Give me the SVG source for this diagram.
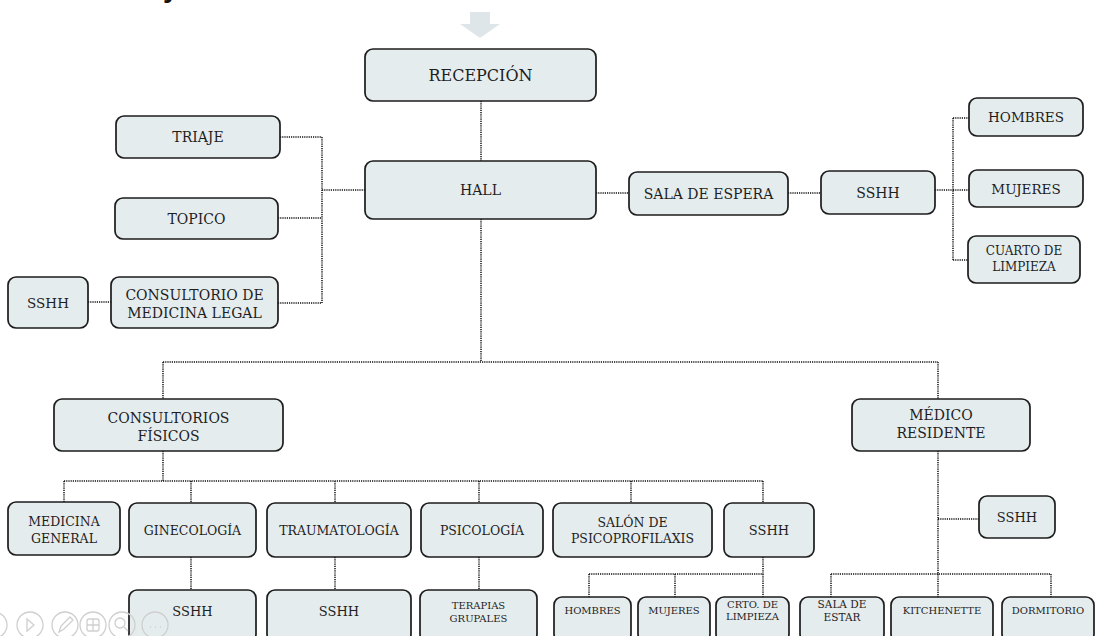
<svg xmlns="http://www.w3.org/2000/svg" width="1096" height="636" viewBox="0 0 1096 636">
<style>
.box{fill:#e5ecee;stroke:#1c1c1c;stroke-width:1.7}
.t{font-family:"DejaVu Serif","Liberation Serif",serif;fill:#1e1e1e;text-anchor:middle}
.c{stroke:#111;stroke-width:1.5;stroke-dasharray:1.2 1;fill:none}
.ui{fill:none;stroke:#cfcfcf;stroke-width:1.3}
</style>
<rect width="1096" height="636" fill="#ffffff"/>
<text x="163" y="-3" style="font-family:'Liberation Sans',sans-serif;font-size:28px;font-weight:bold;fill:#111">y</text>
<g id="entrada-flecha">
<polygon points="470,12 490,12 490,24 500,24 480,38 460,24 470,24" fill="#dfe6ea"/>
</g>
<g id="connectors">
<path class="c" d="M481,101V161 M481,219V362 M163,362H938 M163,362V399 M938,362V399"/>
<path class="c" d="M280,137H322 M278,218H322 M278,303H322 M322,137V303 M322,190H365 M88,302H111"/>
<path class="c" d="M596,193H629 M788,193H821 M935,190H953 M953,118V260 M953,118H969 M953,190H969 M953,260H968"/>
<path class="c" d="M163,451V481 M64,481H763 M64,481V503 M191,481V503 M335,481V503 M479,481V503 M631,481V503 M763,481V503"/>
<path class="c" d="M191,557V590 M335,557V590 M479,557V590"/>
<path class="c" d="M763,557V574 M589,574H763 M589,574V597 M675,574V597 M763,574V597"/>
<path class="c" d="M938,451V597 M938,519H979 M831,574H1051 M831,574V597 M1051,574V597"/>
</g>
<g id="recepcion"><rect class="box" x="365" y="49" width="231" height="52" rx="8"/><text class="t" x="480.5" y="81" font-size="16">RECEPCIÓN</text></g>
<g id="hall"><rect class="box" x="365" y="161" width="231" height="58" rx="8"/><text class="t" x="480.5" y="195" font-size="14">HALL</text></g>
<g id="triaje"><rect class="box" x="116" y="116" width="164" height="42" rx="8"/><text class="t" x="198" y="142" font-size="14">TRIAJE</text></g>
<g id="topico"><rect class="box" x="115" y="198" width="163" height="41" rx="8"/><text class="t" x="196.5" y="223.5" font-size="14">TOPICO</text></g>
<g id="consultorio-legal"><rect class="box" x="111" y="277" width="167" height="51" rx="8"/><text class="t" x="194.5" y="300" font-size="14">CONSULTORIO DE</text><text class="t" x="194.5" y="318" font-size="14">MEDICINA LEGAL</text></g>
<g id="sshh-legal"><rect class="box" x="8" y="277" width="80" height="51" rx="8"/><text class="t" x="48" y="307.5" font-size="13.5">SSHH</text></g>
<g id="sala-espera"><rect class="box" x="629" y="172" width="159" height="43" rx="8"/><text class="t" x="708.5" y="198.5" font-size="14">SALA DE ESPERA</text></g>
<g id="sshh-espera"><rect class="box" x="821" y="171" width="114" height="43" rx="8"/><text class="t" x="878" y="197.5" font-size="14">SSHH</text></g>
<g id="hombres-espera"><rect class="box" x="969" y="98" width="114" height="38" rx="8"/><text class="t" x="1026" y="122" font-size="13.5">HOMBRES</text></g>
<g id="mujeres-espera"><rect class="box" x="969" y="170" width="114" height="37" rx="8"/><text class="t" x="1026" y="193.5" font-size="13.5">MUJERES</text></g>
<g id="cuarto-limpieza"><rect class="box" x="968" y="236" width="112" height="47" rx="8"/><text class="t" x="1024" y="255" font-size="12">CUARTO DE</text><text class="t" x="1024" y="270.5" font-size="12">LIMPIEZA</text></g>
<g id="consultorios-fisicos"><rect class="box" x="54" y="399" width="229" height="52" rx="8"/><text class="t" x="168.5" y="423" font-size="14">CONSULTORIOS</text><text class="t" x="168.5" y="441" font-size="14">FÍSICOS</text></g>
<g id="medico-residente"><rect class="box" x="852" y="399" width="178" height="52" rx="8"/><text class="t" x="941" y="420" font-size="14">MÉDICO</text><text class="t" x="941" y="438" font-size="14">RESIDENTE</text></g>
<g id="medicina-general"><rect class="box" x="8" y="502" width="112" height="53" rx="8"/><text class="t" x="64" y="526" font-size="12.5">MEDICINA</text><text class="t" x="64" y="543" font-size="12.5">GENERAL</text></g>
<g id="ginecologia"><rect class="box" x="129" y="503" width="127" height="54" rx="8"/><text class="t" x="192.5" y="534.5" font-size="12.5">GINECOLOGÍA</text></g>
<g id="traumatologia"><rect class="box" x="267" y="503" width="144" height="54" rx="8"/><text class="t" x="339" y="534.5" font-size="12.5">TRAUMATOLOGÍA</text></g>
<g id="psicologia"><rect class="box" x="421" y="503" width="122" height="54" rx="8"/><text class="t" x="482" y="534.5" font-size="12.5">PSICOLOGÍA</text></g>
<g id="psicoprofilaxis"><rect class="box" x="553" y="503" width="159" height="54" rx="8"/><text class="t" x="632.5" y="526.5" font-size="12.5">SALÓN DE</text><text class="t" x="632.5" y="543" font-size="12.5">PSICOPROFILAXIS</text></g>
<g id="sshh-consultorios"><rect class="box" x="724" y="503" width="90" height="54" rx="8"/><text class="t" x="769" y="535" font-size="13">SSHH</text></g>
<g id="sshh-medico"><rect class="box" x="979" y="496" width="76" height="42" rx="8"/><text class="t" x="1017" y="522" font-size="13">SSHH</text></g>
<g id="sshh-ginecologia"><rect class="box" x="129" y="590" width="127" height="52" rx="8"/><text class="t" x="192.5" y="615.5" font-size="13">SSHH</text></g>
<g id="sshh-traumatologia"><rect class="box" x="267" y="590" width="144" height="52" rx="8"/><text class="t" x="339" y="615.5" font-size="13">SSHH</text></g>
<g id="terapias-grupales"><rect class="box" x="420" y="590" width="117" height="52" rx="8"/><text class="t" x="478.5" y="608.5" font-size="10">TERAPIAS</text><text class="t" x="478.5" y="621.5" font-size="10">GRUPALES</text></g>
<g id="hombres-consultorios"><rect class="box" x="554" y="597" width="77" height="45" rx="8"/><text class="t" x="592.5" y="613.5" font-size="10">HOMBRES</text></g>
<g id="mujeres-consultorios"><rect class="box" x="638" y="597" width="72" height="45" rx="8"/><text class="t" x="674" y="613.5" font-size="10">MUJERES</text></g>
<g id="crto-limpieza"><rect class="box" x="716" y="597" width="73" height="45" rx="8"/><text class="t" x="752.5" y="607.5" font-size="10">CRTO. DE</text><text class="t" x="752.5" y="619.5" font-size="10">LIMPIEZA</text></g>
<g id="sala-estar"><rect class="box" x="800" y="597" width="84" height="45" rx="8"/><text class="t" x="842" y="608" font-size="10.5">SALA DE</text><text class="t" x="842" y="621" font-size="10.5">ESTAR</text></g>
<g id="kitchenette"><rect class="box" x="891" y="597" width="102" height="45" rx="8"/><text class="t" x="942" y="613.5" font-size="10">KITCHENETTE</text></g>
<g id="dormitorio"><rect class="box" x="1002" y="597" width="92" height="45" rx="8"/><text class="t" x="1048" y="613.5" font-size="10">DORMITORIO</text></g>
<g id="controles">
<circle class="ui" cx="-6" cy="625" r="13"/>
<circle class="ui" cx="30" cy="625" r="13"/>
<path class="ui" d="M27,619L34,625L27,631Z"/>
<circle class="ui" cx="65" cy="625" r="13"/>
<path class="ui" d="M59,632L61,626L70,617L73,620L64,629Z"/>
<circle class="ui" cx="93" cy="625" r="13"/>
<rect class="ui" x="87" y="619" width="12" height="12" rx="2"/>
<path class="ui" d="M87,625H99 M93,619V631"/>
<circle class="ui" cx="122" cy="625" r="13"/>
<circle class="ui" cx="120" cy="623" r="5"/>
<path class="ui" d="M124,627L128,631"/>
<circle class="ui" cx="155" cy="625" r="13"/>
<path class="ui" d="M150,627h1 M155,627h1 M160,627h1"/>
</g>
</svg>
